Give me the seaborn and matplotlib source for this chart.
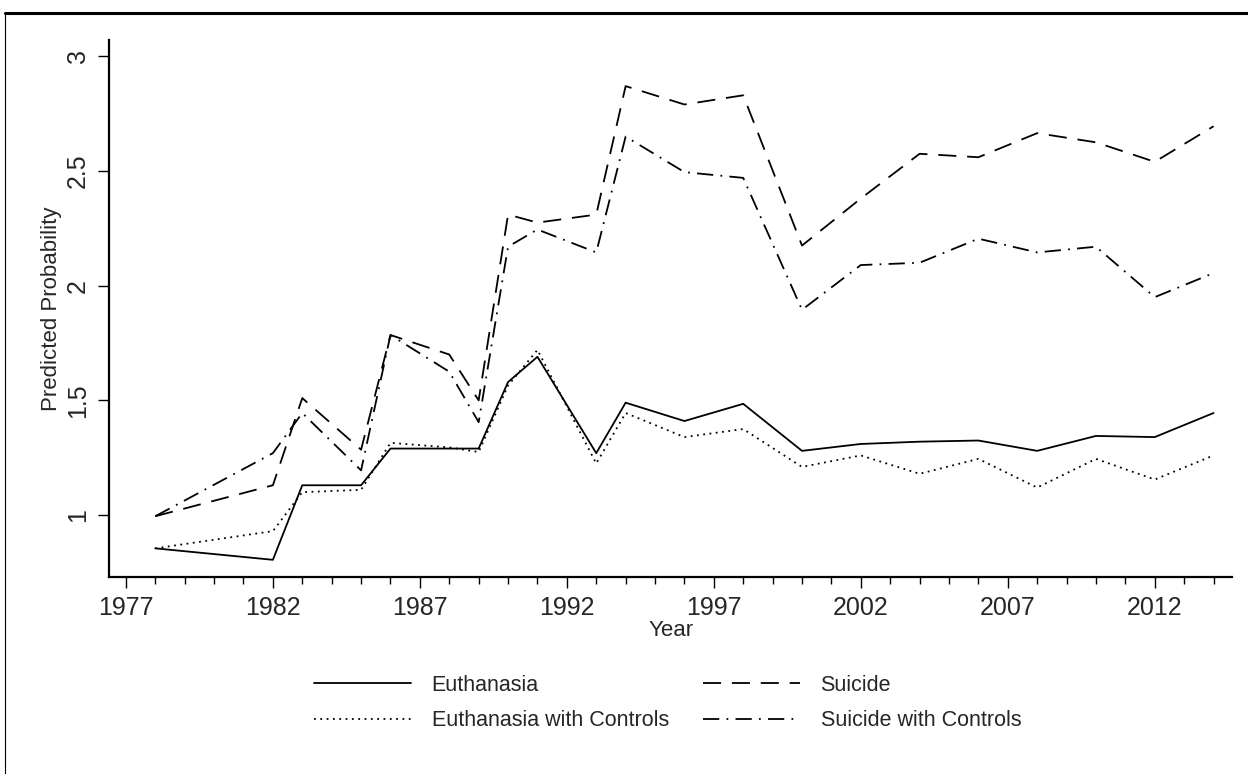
import pandas as pd
import matplotlib
matplotlib.use("Agg")
import matplotlib.pyplot as plt
import seaborn as sns
from matplotlib.lines import Line2D
from matplotlib.ticker import MultipleLocator, FixedLocator

# values
years = [1978, 1982, 1983, 1985, 1986, 1988, 1989, 1990, 1991, 1993, 1994,
         1996, 1998, 2000, 2002, 2004, 2006, 2008, 2010, 2012, 2014]
euthanasia = [0.855, 0.805, 1.13, 1.13, 1.29, 1.29, 1.29, 1.58, 1.69, 1.27, 1.49,
              1.41, 1.485, 1.28, 1.31, 1.32, 1.325, 1.28, 1.345, 1.34, 1.445]
euthanasia_ctrl = [0.855, 0.93, 1.10, 1.11, 1.315, 1.295, 1.275, 1.565, 1.72, 1.225, 1.445,
                   1.34, 1.375, 1.21, 1.26, 1.18, 1.245, 1.12, 1.245, 1.155, 1.26]
suicide = [0.995, 1.13, 1.51, 1.285, 1.785, 1.70, 1.50, 2.31, 2.275, 2.31, 2.87,
           2.79, 2.83, 2.175, 2.38, 2.575, 2.56, 2.665, 2.625, 2.54, 2.695]
suicide_ctrl = [0.995, 1.27, 1.445, 1.195, 1.785, 1.625, 1.405, 2.17, 2.245, 2.145, 2.65,
                2.495, 2.47, 1.895, 2.09, 2.10, 2.205, 2.145, 2.17, 1.95, 2.055]
series_names = ["Euthanasia", "Suicide", "Euthanasia with Controls", "Suicide with Controls"]
x_ticks = [1977, 1982, 1987, 1992, 1997, 2002, 2007, 2012]
y_ticks = [1, 1.5, 2, 2.5, 3]

sns.set_style("ticks")
plt.rcParams["font.family"] = ["Liberation Sans", "DejaVu Sans"]

df = pd.DataFrame({"Year": years,
                   "Euthanasia": euthanasia,
                   "Suicide": suicide,
                   "Euthanasia with Controls": euthanasia_ctrl,
                   "Suicide with Controls": suicide_ctrl})

styles = {"Euthanasia": "-",
          "Suicide": (0, (10, 6)),
          "Euthanasia with Controls": (0, (1, 2.5)),
          "Suicide with Controls": (0, (9, 4, 1, 4))}

fig = plt.figure(figsize=(12.48, 7.74), dpi=100)
ax = fig.add_axes([0.0877, 0.2545, 0.987 - 0.0877, 0.948 - 0.2545])

for name in series_names:
    sns.lineplot(data=df, x="Year", y=name, ax=ax, color="black", lw=1.3,
                 linestyle=styles[name], label=name, legend=False)

ax.set_xlim(1976.44, 2014.62)
ax.set_ylim(0.73, 3.07)
ax.xaxis.set_major_locator(FixedLocator(x_ticks))
ax.xaxis.set_minor_locator(MultipleLocator(1))
ax.yaxis.set_major_locator(FixedLocator(y_ticks))
ax.set_yticklabels(["1", "1.5", "2", "2.5", "3"])
ax.tick_params(axis="both", which="major", length=8, width=1.0, labelsize=18, color="black")
ax.tick_params(axis="x", which="minor", length=5, width=1.0, color="black")
ax.tick_params(axis="x", which="major", pad=6)
ax.tick_params(axis="y", which="major", pad=6, labelrotation=90)
for lab in ax.get_yticklabels():
    lab.set_va("center")

sns.despine(ax=ax)
for sp in ["left", "bottom"]:
    ax.spines[sp].set_linewidth(1.6)
    ax.spines[sp].set_color("black")

ax.set_xlabel("Year", fontsize=16, labelpad=0)
ax.set_ylabel("Predicted Probability", fontsize=16, labelpad=3)

# legend fills column by column, so order gives rows: Euth | Suicide, Euth ctrl | Suicide ctrl
order = ["Euthanasia", "Euthanasia with Controls", "Suicide", "Suicide with Controls"]
handles = [Line2D([], [], color="black", lw=1.3, linestyle=styles[n]) for n in order]
fig.legend(handles, order, loc="center", bbox_to_anchor=(0.535, 0.0915),
           ncol=2, frameon=False, fontsize=15.5, handlelength=4.5,
           handletextpad=0.95, columnspacing=1.6, labelspacing=0.68)

# outer graph frame (top and left edges visible in the reference)
fig.add_artist(Line2D([5 / 1248, 1], [1 - 13 / 774, 1 - 13 / 774], color="black", lw=2.2,
                      transform=fig.transFigure))
fig.add_artist(Line2D([5 / 1248, 5 / 1248], [0, 1 - 13 / 774], color="black", lw=0.8,
                      transform=fig.transFigure))

fig.savefig("out.png", dpi=100, facecolor="white")
